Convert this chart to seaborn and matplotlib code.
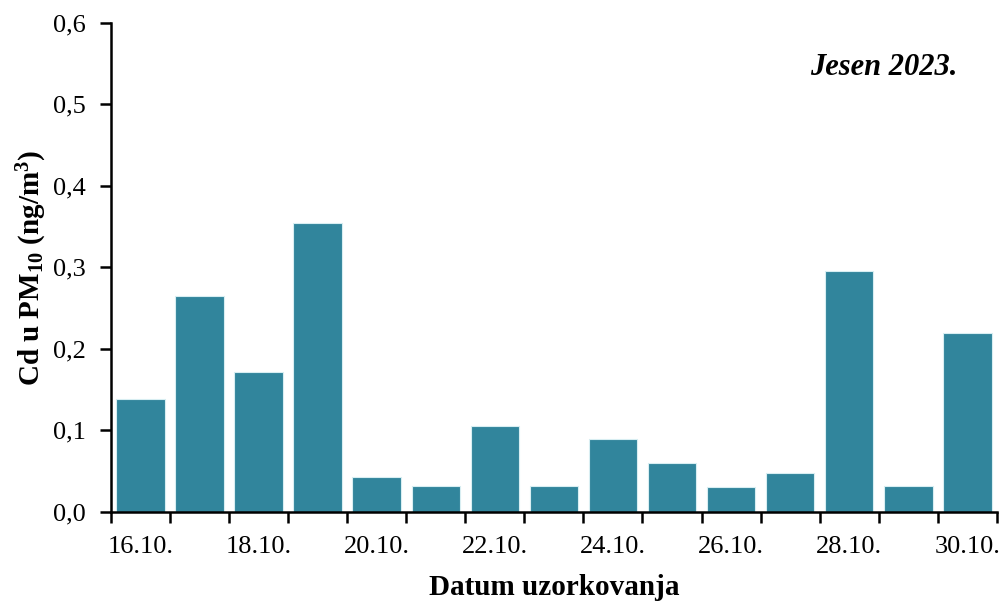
import matplotlib
matplotlib.use("Agg")
import matplotlib.pyplot as plt
import seaborn as sns
import pandas as pd
import numpy as np

dates = ["16.10.", "17.10.", "18.10.", "19.10.", "20.10.", "21.10.", "22.10.", "23.10.",
         "24.10.", "25.10.", "26.10.", "27.10.", "28.10.", "29.10.", "30.10."]
values = [0.139, 0.265, 0.172, 0.355, 0.043, 0.032, 0.106, 0.032,
          0.090, 0.060, 0.031, 0.048, 0.296, 0.032, 0.220]
yticks = [0.0, 0.1, 0.2, 0.3, 0.4, 0.5, 0.6]

sns.set_theme(style="ticks")
plt.rcParams["font.family"] = ["Liberation Serif", "DejaVu Serif"]
plt.rcParams["mathtext.fontset"] = "custom"
plt.rcParams["mathtext.rm"] = "Liberation Serif:bold"
plt.rcParams["mathtext.bf"] = "Liberation Serif:bold"
plt.rcParams["mathtext.it"] = "Liberation Serif:bold:italic"
plt.rcParams["text.color"] = "black"
plt.rcParams["axes.labelcolor"] = "black"
plt.rcParams["xtick.color"] = "black"
plt.rcParams["ytick.color"] = "black"

df = pd.DataFrame({"date": dates, "value": values})

fig = plt.figure(figsize=(10.08, 6.03), dpi=100)
ax = fig.add_axes([0.110, 0.151, 0.879, 0.811])
sns.barplot(data=df, x="date", y="value", color="#31859C", saturation=1,
            width=0.82, edgecolor="#d8eef2", linewidth=0.8, ax=ax)

ax.set_xlim(-0.5, len(dates) - 0.5)
ax.set_ylim(0, 0.6)
ax.set_yticks(yticks)
ax.set_yticklabels([f"{v:.1f}".replace(".", ",") for v in yticks], fontsize=19)

major = np.arange(0, len(dates), 2)
ax.set_xticks(major)
ax.set_xticklabels([dates[i] for i in major], fontsize=19)
ax.set_xticks(np.arange(-0.5, len(dates), 1), minor=True)
ax.tick_params(axis="x", which="major", length=0, pad=17)
ax.tick_params(axis="x", which="minor", length=8, width=1.8, color="black", direction="out")
ax.tick_params(axis="y", which="major", length=8, width=1.8, color="black", direction="out", pad=10)

for s in ["top", "right"]:
    ax.spines[s].set_visible(False)
for s in ["left", "bottom"]:
    ax.spines[s].set_linewidth(1.8)
    ax.spines[s].set_color("black")

ax.set_xlabel("Datum uzorkovanja", fontsize=21, fontweight="bold", labelpad=12)
ax.set_ylabel("Cd u PM$_{10}$ (ng/m$^{3}$)", fontsize=21, fontweight="bold", labelpad=3)

ax.text(0.956, 0.908, "Jesen 2023.", transform=ax.transAxes, ha="right", va="center",
        fontsize=22, fontweight="bold", fontstyle="italic")

fig.savefig("out.png", dpi=100)
